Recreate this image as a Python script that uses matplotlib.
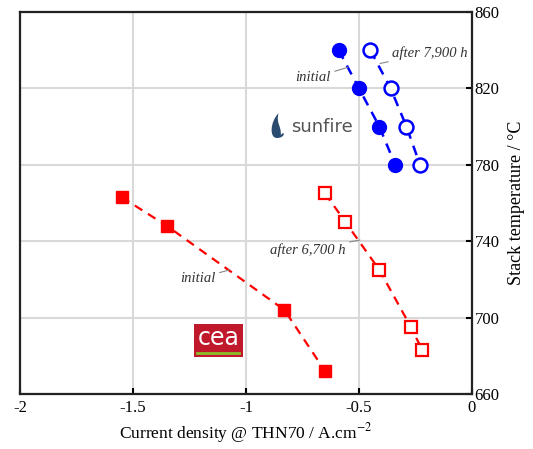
import matplotlib.pyplot as plt
from matplotlib.patches import Rectangle, PathPatch
from matplotlib.path import Path

plt.rc('font', family='Liberation Serif')
plt.rc('mathtext', fontset='stix')

# SOFC (sunfire) data
sun_init_j = [-0.59, -0.50, -0.41, -0.34]
sun_init_T = [840, 820, 800, 780]
sun_aged_j = [-0.45, -0.36, -0.29, -0.23]
sun_aged_T = [840, 820, 800, 780]

# CEA data
cea_init_j = [-1.55, -1.35, -0.83, -0.65]
cea_init_T = [763, 748, 704, 672]
cea_aged_j = [-0.65, -0.56, -0.41, -0.27, -0.22]
cea_aged_T = [765, 750, 725, 695, 683]

xticks = [-2, -1.5, -1, -0.5, 0]
xticklabels = ['-2', '-1.5', '-1', '-0.5', '0']
yticks = [660, 700, 740, 780, 820, 860]

fig = plt.figure(figsize=(5.33, 4.49), dpi=100)
ax = fig.add_axes([0.0375, 0.1225, 0.848, 0.851])

ax.plot(sun_init_j, sun_init_T, color='blue', ls=(0, (4, 3)), lw=1.8,
        marker='o', ms=10, mfc='blue', mec='blue', zorder=3)
ax.plot(sun_aged_j, sun_aged_T, color='blue', ls=(0, (4, 3)), lw=1.8,
        marker='o', ms=10, mfc='white', mec='blue', mew=1.8, zorder=3)
ax.plot(cea_init_j, cea_init_T, color='red', ls=(0, (4, 3)), lw=1.6,
        marker='s', ms=8.5, mfc='red', mec='red', zorder=3)
ax.plot(cea_aged_j, cea_aged_T, color='red', ls=(0, (4, 3)), lw=1.6,
        marker='s', ms=8, mfc='white', mec='red', mew=1.6, zorder=3)

ax.set_xlim(-2, 0)
ax.set_ylim(660, 860)
ax.set_xticks(xticks)
ax.set_xticklabels(xticklabels)
ax.set_yticks(yticks)
ax.yaxis.tick_right()
ax.yaxis.set_label_position('right')
ax.tick_params(direction='in', length=4, width=1.5, labelsize=12, pad=4, colors='black')
ax.tick_params(axis='y', pad=2)
ax.grid(True, color='#d9d9d9', lw=1.5)
ax.set_axisbelow(True)
for s in ax.spines.values():
    s.set_linewidth(1.6)
    s.set_color('#222222')

ax.set_xlabel(r'Current density @ THN70 / A.cm$^{\mathrm{-2}}$', fontsize=12.5, labelpad=4)
ax.set_ylabel('Stack temperature / \u00b0C', fontsize=13, labelpad=6)

# annotations
akw = dict(fontsize=10.5, style='italic', color='#333333',
           arrowprops=dict(arrowstyle='-', color='#888888', lw=0.8, shrinkA=1, shrinkB=0))
ax.annotate('initial', xy=(-0.549, 831), xytext=(-0.625, 825.5), ha='right', va='center', **akw)
ax.annotate('after 7,900 h', xy=(-0.407, 833), xytext=(-0.352, 838.5), ha='left', va='center', **akw)
ax.annotate('initial', xy=(-1.071, 725), xytext=(-1.135, 720.5), ha='right', va='center', **akw)
ax.annotate('after 6,700 h', xy=(-0.496, 740.6), xytext=(-0.56, 735.4), ha='right', va='center', **akw)

# sunfire logo (flame + text)
fx, fy = -0.858, 800.5
flame = Path([(fx - 0.005, fy - 6.5),
              (fx - 0.04, fy - 6.5), (fx - 0.035, fy + 2), (fx + 0.002, fy + 6.5),
              (fx - 0.01, fy + 1), (fx + 0.015, fy), (fx + 0.012, fy - 5),
              (fx + 0.03, fy - 2), (fx + 0.035, fy - 6.5), (fx - 0.005, fy - 6.5),
              (fx - 0.005, fy - 6.5)],
             [Path.MOVETO,
              Path.CURVE4, Path.CURVE4, Path.CURVE4,
              Path.CURVE4, Path.CURVE4, Path.CURVE4,
              Path.CURVE4, Path.CURVE4, Path.CURVE4,
              Path.CLOSEPOLY])
ax.add_patch(PathPatch(flame, fc='#2b4a6f', ec='none', zorder=4))
ax.text(-0.8, 799.5, 'sunfire', fontsize=13, family='DejaVu Sans', color='#555555',
        ha='left', va='center', zorder=4)

# cea logo
ax.add_patch(Rectangle((-1.23, 679.4), 0.217, 17.2, fc='#c0192c', ec='none', zorder=4))
ax.plot([-1.215, -1.03], [681.3, 681.3], color='#8cbd2c', lw=2, zorder=5)
ax.text(-1.122, 689.5, 'cea', fontsize=17, color='white', ha='center', va='center',
        family='DejaVu Sans', zorder=5)

plt.savefig('out.png', dpi=100)
